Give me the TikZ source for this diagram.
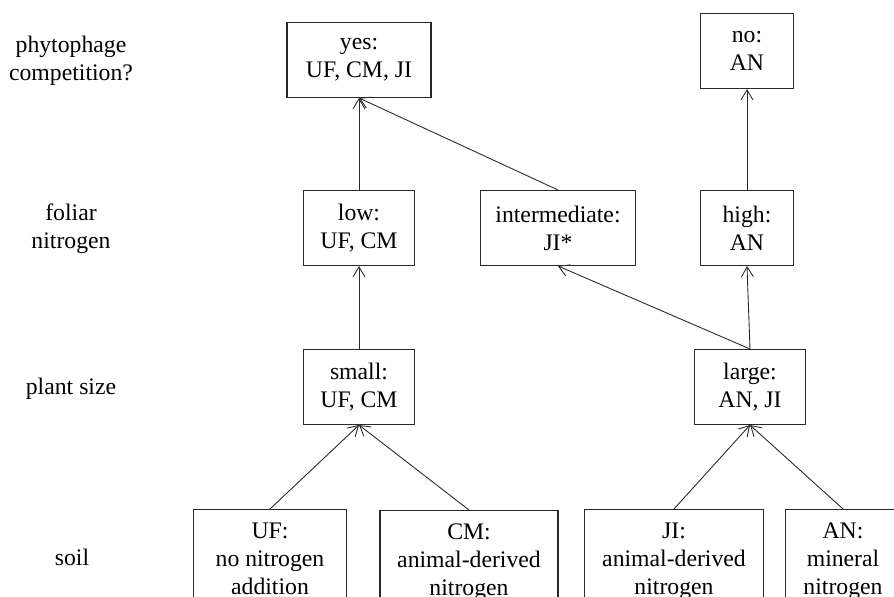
\documentclass[tikz,border=0pt]{standalone}
\usepackage{fontspec}
\setmainfont{Liberation Serif}
\usepackage{tikz}
\usetikzlibrary{arrows.meta,positioning}
\definecolor{BoxLine}{RGB}{40,40,40}

\begin{document}
\begin{tikzpicture}[x=0.02cm,y=-0.02cm,
  blk/.style={draw=BoxLine,line width=0.6pt,minimum height=1.5cm,inner xsep=0.3cm,
              align=center,font=\fontsize{13.5}{15.9}\selectfont},
  sblk/.style={blk,anchor=north,minimum height=0pt,inner ysep=0.27cm},
  lbl/.style={align=center,font=\fontsize{13.5}{15.9}\selectfont},
  arr/.style={-{Straight Barb[length=2mm,width=2.4mm]},BoxLine,line width=0.5pt},
]
\useasboundingbox (0,0) rectangle (894,597);
\clip (0,0) rectangle (894,597);
% row labels
\node[lbl] (lcomp) at (71,61) {phytophage\\competition?};
\node[lbl] (lfol) at (71,229) {foliar\\nitrogen};
\node[lbl] (lsize) at (71,389) {plant size};
\node[lbl] (lsoil) at (72,557) {soil};
% boxes
\node[blk,minimum width=2.88cm] (yes) at (359,60) {yes:\\UF, CM, JI};
\node[blk,minimum width=1.86cm] (no) at (747,51) {no:\\AN};
\node[blk,minimum width=2.22cm] (low) at (359,228) {low:\\UF, CM};
\node[blk,minimum width=3.06cm] (inter) at (558,228) {intermediate:\\JI*};
\node[blk,minimum width=1.86cm] (high) at (747,228) {high:\\AN};
\node[blk,minimum width=2.22cm] (small) at (359,387) {small:\\UF, CM};
\node[blk,minimum width=2.22cm] (large) at (750,387) {large:\\AN, JI};
\node[sblk,minimum width=3.06cm] (uf) at (270,509) {UF:\\no nitrogen\\addition};
\node[sblk,minimum width=3.56cm] (cm) at (469,510) {CM:\\animal-derived\\nitrogen};
\node[sblk,minimum width=3.58cm] (ji) at (674,509) {JI:\\animal-derived\\nitrogen};
\node[sblk,anchor=north west,minimum width=2.3cm] (an) at (785,509) {AN:\\mineral\\nitrogen};
\foreach \a/\b in {low/yes,inter/yes,high/no,small/low,large/inter,large/high,uf/small,cm/small,ji/large,an/large}
  \draw[arr] (\a.north) -- (\b.south);
\end{tikzpicture}
\end{document}
